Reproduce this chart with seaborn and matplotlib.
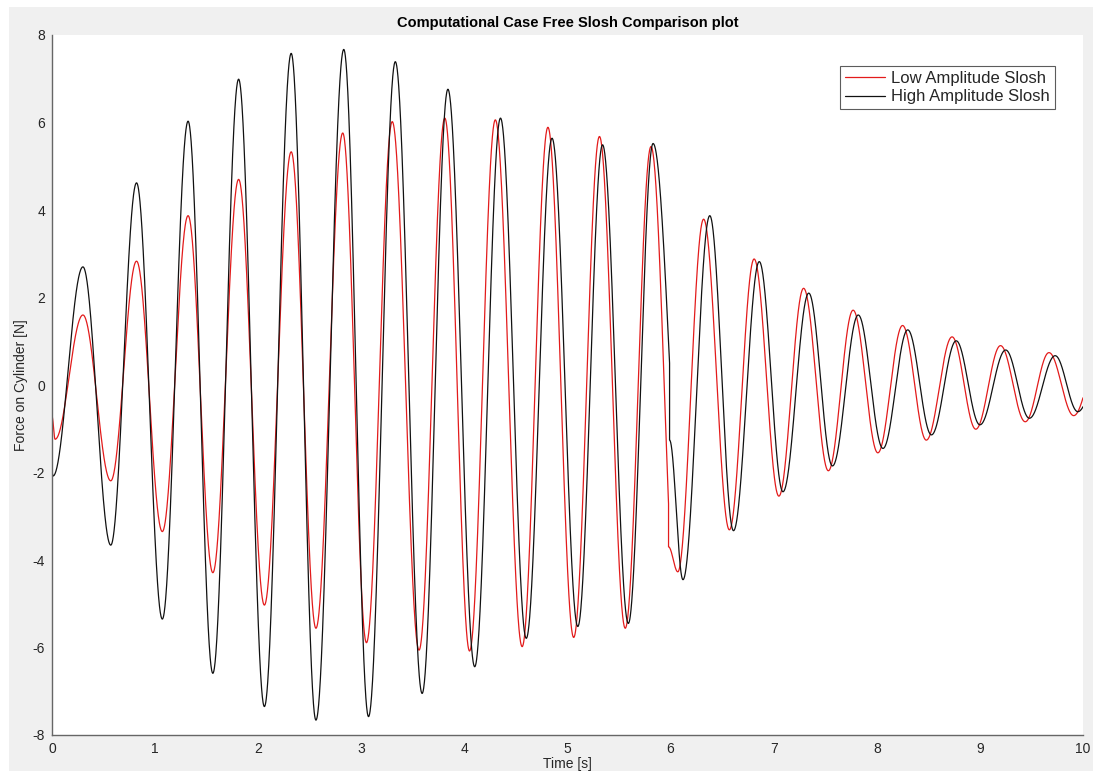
import numpy as np
import pandas as pd
import matplotlib
matplotlib.use("Agg")
import matplotlib.pyplot as plt
from matplotlib.patches import Rectangle
import seaborn as sns

# Turning points (time [s], force [N]) of each run. Each case restarts near t = 6 s,
# so every case is stored as two runs: before and after the restart.
low_t_a = [0.00, 0.03, 0.30, 0.57, 0.82, 1.07, 1.32, 1.56, 1.81, 2.06, 2.32, 2.56, 2.82,
           3.05, 3.30, 3.56, 3.81, 4.05, 4.30, 4.56, 4.81, 5.06, 5.31, 5.56, 5.81, 6.07]
low_f_a = [-0.72, -1.24, 1.60, -2.19, 2.83, -3.35, 3.87, -4.29, 4.70, -5.03, 5.33, -5.56, 5.76,
           -5.89, 6.02, -6.06, 6.10, -6.08, 6.06, -5.98, 5.89, -5.77, 5.68, -5.56, 5.45, -5.70]
low_t_b = [5.98, 6.07, 6.32, 6.57, 6.81, 7.05, 7.29, 7.53, 7.77, 8.01, 8.25, 8.48, 8.73,
           8.96, 9.20, 9.44, 9.67, 9.91, 10.15]
low_f_b = [-3.70, -4.27, 3.79, -3.31, 2.88, -2.54, 2.21, -1.96, 1.71, -1.55, 1.36, -1.26, 1.10,
           -1.01, 0.90, -0.84, 0.74, -0.70, 0.62]
low_restart = 5.98

high_t_a = [0.00, 0.01, 0.30, 0.57, 0.82, 1.07, 1.32, 1.56, 1.81, 2.06, 2.32, 2.56, 2.83,
            3.07, 3.33, 3.59, 3.84, 4.10, 4.35, 4.60, 4.85, 5.10, 5.34, 5.59, 5.83, 6.15]
high_f_a = [-2.00, -2.08, 2.70, -3.66, 4.62, -5.35, 6.03, -6.59, 6.99, -7.35, 7.58, -7.66, 7.67,
            -7.58, 7.39, -7.05, 6.76, -6.44, 6.10, -5.79, 5.64, -5.52, 5.49, -5.45, 5.52, -4.52]
high_t_b = [5.99, 6.12, 6.38, 6.61, 6.86, 7.09, 7.34, 7.57, 7.82, 8.06, 8.30, 8.53, 8.77,
            9.00, 9.25, 9.48, 9.73, 9.95, 10.20]
high_f_b = [-1.26, -4.45, 3.87, -3.33, 2.82, -2.44, 2.10, -1.85, 1.60, -1.45, 1.26, -1.14, 1.01,
            -0.91, 0.80, -0.76, 0.67, -0.61, 0.58]
high_restart = 5.99

case_names = ["Low Amplitude Slosh", "High Amplitude Slosh"]
case_colors = ["#e31b1b", "#111111"]
t_end = 10.0


def swing(tk, fk, t0, t1, n=2500):
    """Half-cosine swing between successive turning points, sampled on [t0, t1]."""
    tk = np.asarray(tk, float)
    fk = np.asarray(fk, float)
    t = np.linspace(t0, t1, n)
    i = np.clip(np.searchsorted(tk, t, side="right") - 1, 0, len(tk) - 2)
    s = np.clip((t - tk[i]) / (tk[i + 1] - tk[i]), 0, 1)
    f = fk[i] + (fk[i + 1] - fk[i]) * (1 - np.cos(np.pi * s)) / 2
    return t, f


frames = []
for name, (ta, fa, tb, fb, tr) in zip(
        case_names,
        [(low_t_a, low_f_a, low_t_b, low_f_b, low_restart),
         (high_t_a, high_f_a, high_t_b, high_f_b, high_restart)]):
    t1, f1 = swing(ta, fa, 0.0, tr)
    t2, f2 = swing(tb, fb, tr, t_end)
    frames.append(pd.DataFrame({"Time": np.r_[t1, t2],
                                "Force": np.r_[f1, f2],
                                "Case": name}))
df = pd.concat(frames, ignore_index=True)

sns.set_style("white")
plt.rcParams["font.family"] = ["Liberation Sans", "DejaVu Sans"]
plt.rcParams["axes.unicode_minus"] = False

W, H = 1093, 771
fig = plt.figure(figsize=(W / 100, H / 100), dpi=100, facecolor="white")
# grey window background with a thin white margin on the top and left
fig.patches.append(Rectangle((9 / W, 0), 1 - 9 / W, 1 - 7 / H, transform=fig.transFigure,
                             facecolor="#f0f0f0", edgecolor="none", zorder=-10))
ax = fig.add_axes([52 / W, 1 - 735 / H, (1083 - 52) / W, (735 - 35) / H])
ax.set_facecolor("white")

sns.lineplot(data=df, x="Time", y="Force", hue="Case", hue_order=case_names,
             palette=dict(zip(case_names, case_colors)), sort=False, estimator=None,
             linewidth=0.9, ax=ax)

ax.set_xlim(0, 10)
ax.set_ylim(-8, 8)
ax.set_xticks(range(0, 11))
ax.set_yticks(range(-8, 9, 2))
ax.set_title("Computational Case Free Slosh Comparison plot", fontsize=10.5,
             fontweight="bold", pad=6, color="#000000")
ax.set_xlabel("Time [s]", fontsize=10, labelpad=1, color="#262626")
ax.set_ylabel("Force on Cylinder [N]", fontsize=10, labelpad=3, color="#262626")

for side in ("top", "right"):
    ax.spines[side].set_visible(False)
for side in ("left", "bottom"):
    ax.spines[side].set_color("#666666")
    ax.spines[side].set_linewidth(1.0)
ax.tick_params(direction="in", length=7, width=0.9, color="#555555",
               labelsize=10, labelcolor="#262626", pad=5)

handles, labels = ax.get_legend_handles_labels()
leg = ax.legend(handles, labels, loc="upper right",
                bbox_to_anchor=((1055 - 52) / (1083 - 52), (735 - 66) / (735 - 35)),
                borderaxespad=0, fontsize=12, frameon=True, fancybox=False,
                handlelength=2.4, handletextpad=0.4, labelspacing=0.2,
                borderpad=0.3)
leg.get_frame().set_edgecolor("#333333")
leg.get_frame().set_linewidth(0.8)
for line in leg.get_lines():
    line.set_linewidth(0.9)

fig.savefig("out.png", dpi=100, facecolor=fig.get_facecolor())
